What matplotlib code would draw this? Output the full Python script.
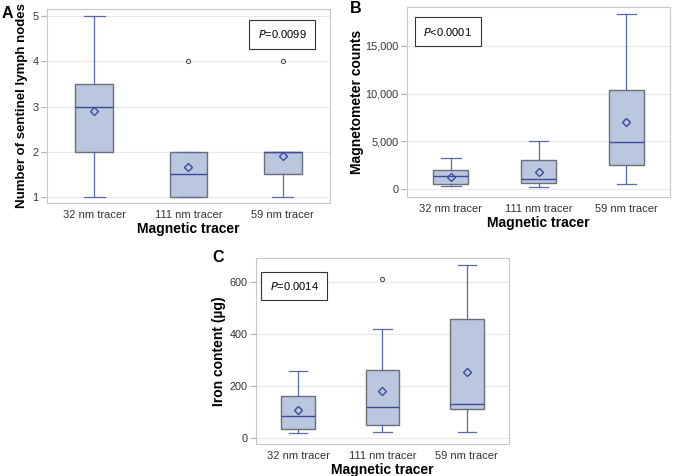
import matplotlib.pyplot as plt
from matplotlib.ticker import FuncFormatter

plt.rcParams['font.family'] = ['Liberation Sans', 'DejaVu Sans']

tracers = ['32 nm tracer', '111 nm tracer', '59 nm tracer']

# Panel A: number of sentinel lymph nodes
a_whislo = [1, 1, 1]
a_q1 = [2, 1, 1.5]
a_med = [3, 1.5, 2]
a_q3 = [3.5, 2, 2]
a_whishi = [5, 2, 2]
a_mean = [2.91, 1.67, 1.91]
a_fliers = [[], [4], [4]]

# Panel B: magnetometer counts
b_whislo = [300, 200, 500]
b_q1 = [500, 600, 2500]
b_med = [1350, 1050, 4900]
b_q3 = [2000, 3000, 10400]
b_whishi = [3200, 5050, 18400]
b_mean = [1250, 1750, 7000]
b_fliers = [[], [], []]

# Panel C: iron content
c_whislo = [20, 25, 25]
c_q1 = [35, 52, 110]
c_med = [83, 118, 130]
c_q3 = [160, 260, 458]
c_whishi = [258, 418, 665]
c_mean = [106, 180, 254]
c_fliers = [[], [610], []]

FILL = '#bac7de'
EDGE = '#6b6f7a'
WHISK = '#5b6aa6'
MED = '#3b4b9b'


def stats(lo, q1, med, q3, hi, mean, fl):
    return [dict(whislo=lo[i], q1=q1[i], med=med[i], q3=q3[i], whishi=hi[i],
                 mean=mean[i], fliers=fl[i], label=tracers[i]) for i in range(len(lo))]


def draw(ax, st, ylim, yticks, ylabel, ptext, pbox, letter, letter_xy, fmt=None,
         ylabel_size=10, ylabel_pad=3):
    ax.bxp(st, positions=[1, 2, 3], widths=0.4, capwidths=0.22, patch_artist=True,
           showmeans=True,
           boxprops=dict(facecolor=FILL, edgecolor=EDGE, linewidth=1),
           whiskerprops=dict(color=WHISK, linewidth=0.9),
           capprops=dict(color=WHISK, linewidth=0.9),
           medianprops=dict(color=MED, linewidth=1),
           meanprops=dict(marker='D', markerfacecolor='none', markeredgecolor=MED,
                          markersize=4, markeredgewidth=1),
           flierprops=dict(marker='o', markerfacecolor='none', markeredgecolor='#555555',
                           markersize=3, markeredgewidth=0.8))
    ax.set_xlim(0.5, 3.5)
    ax.set_ylim(*ylim)
    ax.set_yticks(yticks)
    if fmt:
        ax.yaxis.set_major_formatter(FuncFormatter(fmt))
    ax.set_xticks([1, 2, 3])
    ax.set_xticklabels(tracers)
    ax.grid(axis='y', color='#e8e8e8', linewidth=0.8)
    ax.set_axisbelow(True)
    for s in ax.spines.values():
        s.set_color('#c8c8c8')
    ax.tick_params(axis='y', labelsize=7.8, colors='#b0b0b0', labelcolor='#333333',
                   length=4.5, pad=1.5)
    ax.tick_params(axis='x', labelsize=8, labelcolor='#333333', length=0, pad=5)
    ax.set_xlabel('Magnetic tracer', fontsize=10, fontweight='bold', labelpad=1.5)
    ax.set_ylabel(ylabel, fontsize=ylabel_size, fontweight='bold', labelpad=ylabel_pad)
    ax.text(pbox[0], pbox[1], ptext, transform=ax.transAxes, fontsize=8,
            ha='center', va='center',
            bbox=dict(boxstyle='square,pad=0.75', facecolor='white', edgecolor='#333333', linewidth=0.8))
    fig.text(letter_xy[0], letter_xy[1], letter, fontsize=11.5, fontweight='bold',
             ha='left', va='center')


fig = plt.figure(figsize=(6.73, 4.76), dpi=100)
axA = fig.add_axes([0.0698, 0.5735, 0.4205, 0.4076])
axB = fig.add_axes([0.6048, 0.5861, 0.3908, 0.3992])
axC = fig.add_axes([0.3804, 0.0672, 0.3759, 0.3908])

draw(axA, stats(a_whislo, a_q1, a_med, a_q3, a_whishi, a_mean, a_fliers),
     (0.867, 5.155), [1, 2, 3, 4, 5], 'Number of sentinel lymph nodes',
     '$P$=0.0099', (0.83, 0.87), 'A', (0.002, 0.971), ylabel_size=9.5)
draw(axB, stats(b_whislo, b_q1, b_med, b_q3, b_whishi, b_mean, b_fliers),
     (-840, 19090), [0, 5000, 10000, 15000], 'Magnetometer counts',
     '$P$<0.0001', (0.155, 0.87), 'B', (0.52, 0.982),
     fmt=lambda v, p: f'{int(v):,}', ylabel_pad=1)
draw(axC, stats(c_whislo, c_q1, c_med, c_q3, c_whishi, c_mean, c_fliers),
     (-23, 692), [0, 200, 400, 600], 'Iron content (µg)',
     '$P$=0.0014', (0.15, 0.85), 'C', (0.316, 0.458))

fig.savefig('out.png', dpi=100)
